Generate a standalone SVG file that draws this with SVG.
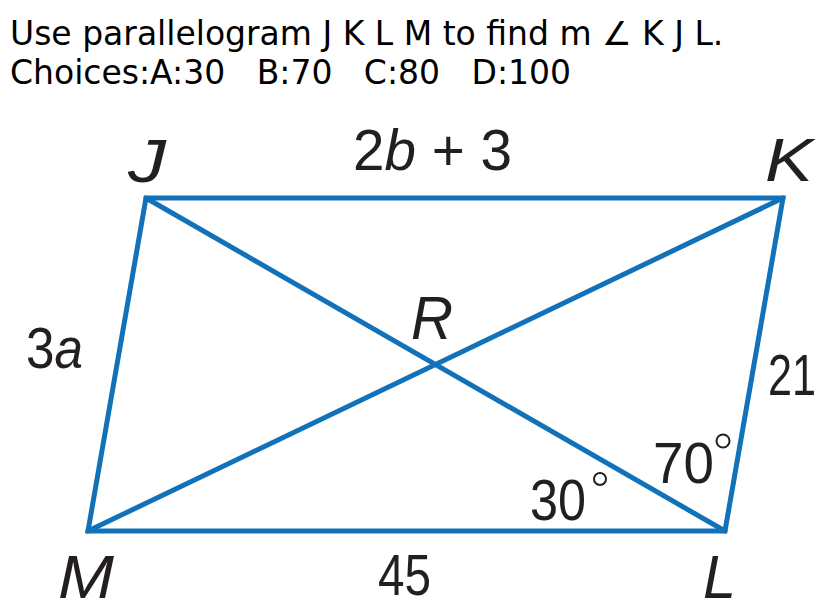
<svg xmlns="http://www.w3.org/2000/svg" width="828" height="615" viewBox="0 0 828 615">
<style>
.title{font-family:"DejaVu Sans",sans-serif;font-size:33px;fill:#000;white-space:pre}
.lbl{font-family:"Liberation Sans",Arial,sans-serif;font-size:62px;fill:#231f20;font-style:italic}
.num{font-family:"Liberation Sans",Arial,sans-serif;font-size:58px;fill:#231f20}
.edge{stroke:#1172b9;stroke-width:5;fill:none;stroke-linejoin:miter;stroke-linecap:round}
.deg{stroke:#231f20;stroke-width:2;fill:none}
</style>
<rect width="828" height="615" fill="#fff"/>
<text class="title" x="10" y="45" xml:space="preserve">Use parallelogram J K L M to find m ∠ K J L.</text>
<text class="title" x="10" y="84" xml:space="preserve">Choices:A:30   B:70   C:80   D:100</text>
<g id="connectors">
<path class="edge" d="M146,198 L783,198 L725,531 L88,531 Z"/>
<line class="edge" x1="146" y1="198" x2="725" y2="531"/>
<line class="edge" x1="783" y1="198" x2="88" y2="531"/>
</g>
<g id="J"><text class="lbl" x="128" y="182" textLength="38" lengthAdjust="spacingAndGlyphs">J</text></g>
<g id="K"><text class="lbl" x="765" y="181" textLength="48" lengthAdjust="spacingAndGlyphs">K</text></g>
<g id="L"><text class="lbl" x="703" y="598" textLength="33" lengthAdjust="spacingAndGlyphs">L</text></g>
<g id="M"><text class="lbl" x="58" y="598" textLength="56" lengthAdjust="spacingAndGlyphs">M</text></g>
<g id="R"><text class="lbl" x="411" y="339" textLength="42" lengthAdjust="spacingAndGlyphs">R</text></g>
<g id="label-JK"><text class="num" x="353" y="170" textLength="159" lengthAdjust="spacingAndGlyphs">2<tspan font-style="italic">b</tspan> + 3</text></g>
<g id="label-JM"><text class="num" x="26" y="368" textLength="57" lengthAdjust="spacingAndGlyphs">3<tspan font-style="italic">a</tspan></text></g>
<g id="label-KL"><text class="num" x="768" y="395" textLength="48" lengthAdjust="spacingAndGlyphs">21</text></g>
<g id="label-ML"><text class="num" x="378" y="595" textLength="53" lengthAdjust="spacingAndGlyphs">45</text></g>
<g id="angle-70"><text class="num" x="653" y="483" textLength="61" lengthAdjust="spacingAndGlyphs">70</text><circle class="deg" cx="723" cy="441" r="6.5"/></g>
<g id="angle-30"><text class="num" x="530" y="520" textLength="56" lengthAdjust="spacingAndGlyphs">30</text><circle class="deg" cx="600" cy="479" r="6"/></g>
</svg>
